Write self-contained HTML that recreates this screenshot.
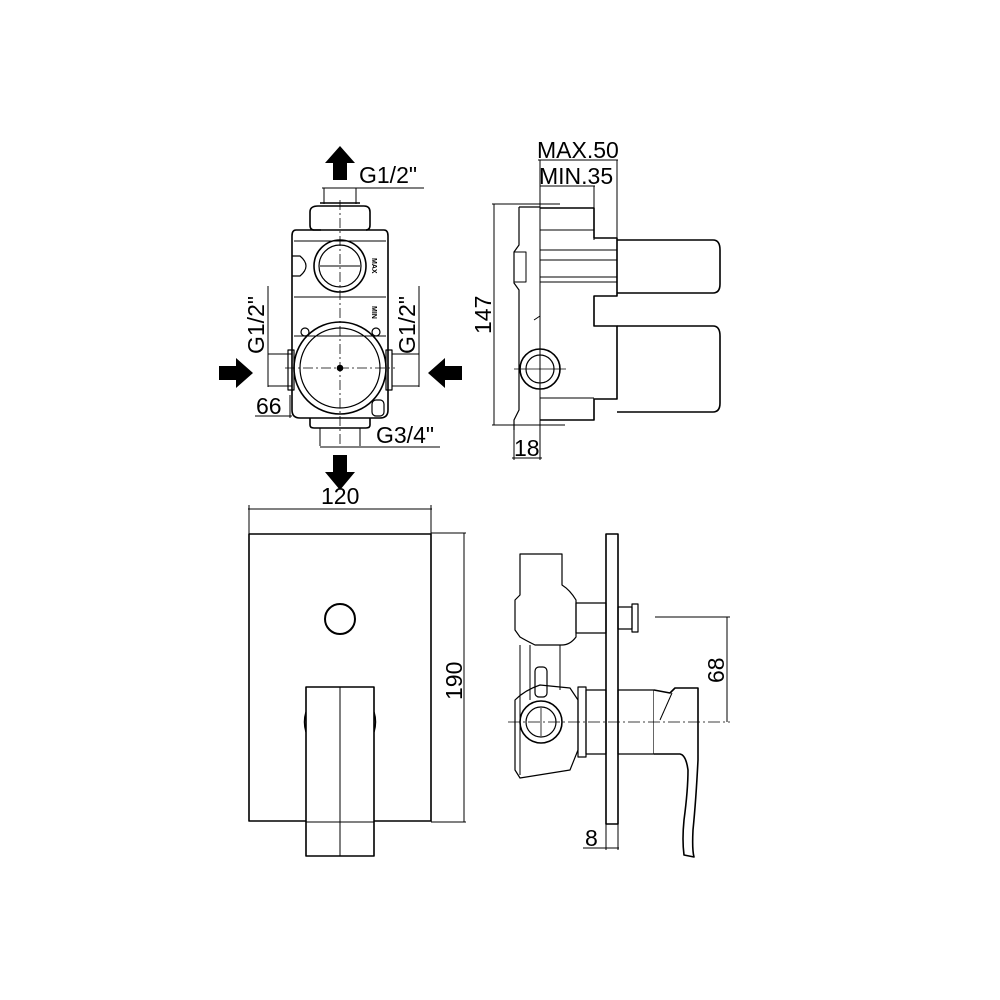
<!DOCTYPE html>
<html><head><meta charset="utf-8"><style>
html,body{margin:0;padding:0;background:#fff}
svg{display:block}
text{font-family:"Liberation Sans","DejaVu Sans",sans-serif;fill:#000}
</style></head><body>
<svg width="1000" height="1000" viewBox="0 0 1000 1000" xmlns="http://www.w3.org/2000/svg">
<g fill="none" stroke="#000" stroke-width="1.6" stroke-linejoin="round">

<!-- ===== TOP LEFT VIEW ===== -->
<polygon points="340,146 355,163 347,163 347,180 333,180 333,163 325,163" fill="#000" stroke="none"/>
<line x1="322" y1="188" x2="424" y2="188" stroke-width="1"/>
<line x1="324" y1="188" x2="324" y2="204" stroke-width="1"/>
<line x1="356" y1="188" x2="356" y2="204" stroke-width="1"/>
<path d="M321,230 L314,230 Q310,230 310,225 L310,212 Q310,206 318,206 L364,206 Q370,206 370,212 L370,225 Q370,230 366,230"/>
<line x1="320" y1="203" x2="360" y2="203"/>
<path d="M296,230 L384,230 Q388,230 388,236 L388,410 Q388,418 380,418 L300,418 Q292,418 292,410 L292,236 Q292,230 296,230 Z"/>
<line x1="294" y1="241" x2="386" y2="241" stroke-width="1"/>
<line x1="294" y1="297" x2="386" y2="297" stroke-width="1"/>
<line x1="294" y1="336" x2="386" y2="336" stroke-width="1"/>
<path d="M292,256 L300,256 Q306,261 306,266 Q306,271 300,276 L292,276" stroke-width="1.2"/>
<circle cx="340" cy="266" r="26"/>
<circle cx="340" cy="266" r="21" stroke-width="1.2"/>
<line x1="320" y1="266" x2="360" y2="266" stroke-width="1"/>
<line x1="340" y1="200" x2="340" y2="445" stroke-width="0.8" stroke-dasharray="10,3,2,3"/>
<circle cx="305" cy="332" r="4" stroke-width="1.2"/>
<circle cx="376" cy="332" r="4" stroke-width="1.2"/>
<rect x="288" y="350" width="6" height="40" stroke-width="1.2"/>
<rect x="386" y="350" width="6" height="40" stroke-width="1.2"/>
<circle cx="340" cy="368" r="46"/>
<circle cx="340" cy="368" r="40" stroke-width="1.2"/>
<circle cx="340" cy="368" r="2.5" fill="#000"/>
<line x1="285" y1="368" x2="395" y2="368" stroke-width="0.8" stroke-dasharray="10,3,2,3"/>
<rect x="372" y="400" width="12" height="16" rx="4" stroke-width="1.2"/>
<path d="M310,418 L310,425 Q310,428 314,428 L366,428 Q370,428 370,425 L370,418"/>
<line x1="320" y1="428" x2="320" y2="446" stroke-width="1"/>
<line x1="360" y1="428" x2="360" y2="446" stroke-width="1"/>
<line x1="320" y1="447" x2="440" y2="447" stroke-width="1"/>
<line x1="268" y1="286" x2="268" y2="387" stroke-width="1"/>
<line x1="268" y1="354" x2="292" y2="354" stroke-width="1"/>
<line x1="268" y1="386" x2="292" y2="386" stroke-width="1"/>
<line x1="419" y1="286" x2="419" y2="387" stroke-width="1"/>
<line x1="392" y1="354" x2="419" y2="354" stroke-width="1"/>
<line x1="392" y1="386" x2="419" y2="386" stroke-width="1"/>
<line x1="255" y1="416" x2="292" y2="416" stroke-width="1"/>
<line x1="290" y1="395" x2="290" y2="418" stroke-width="1"/>
<polygon points="253,373 236,358 236,366 219,366 219,380 236,380 236,388" fill="#000" stroke="none"/>
<polygon points="428,373 445,358 445,366 462,366 462,380 445,380 445,388" fill="#000" stroke="none"/>
<polygon points="340,490 325,472 333,472 333,455 347,455 347,472 355,472" fill="#000" stroke="none"/>

<!-- ===== TOP RIGHT VIEW ===== -->
<line x1="538" y1="160" x2="618" y2="160" stroke-width="1"/>
<line x1="540" y1="186" x2="595" y2="186" stroke-width="1"/>
<line x1="540" y1="160" x2="540" y2="425" stroke-width="1"/>
<line x1="594" y1="186" x2="594" y2="240" stroke-width="1"/>
<line x1="617" y1="160" x2="617" y2="240" stroke-width="1"/>
<line x1="492" y1="204" x2="560" y2="204" stroke-width="1"/>
<line x1="492" y1="425" x2="565" y2="425" stroke-width="1"/>
<line x1="494" y1="204" x2="494" y2="425" stroke-width="1"/>
<path d="M540,208 L594,208 L594,238 L617,238 L617,296 L594,296 L594,326 L617,326 L617,399 L594,399 L594,420 L540,420"/>
<line x1="540" y1="230" x2="594" y2="230" stroke-width="1"/>
<line x1="540" y1="250" x2="617" y2="250" stroke-width="1"/>
<line x1="540" y1="260" x2="617" y2="260" stroke-width="1"/>
<line x1="540" y1="277" x2="617" y2="277" stroke-width="1"/>
<line x1="540" y1="282" x2="617" y2="282" stroke-width="1"/>
<line x1="540" y1="398" x2="594" y2="398" stroke-width="1"/>
<path d="M519,207 L540,207 M519,207 L519,245 L514,252 L514,283 L519,290 L519,410 L514,420 L514,430" stroke-width="1.2"/>
<rect x="514" y="252" width="12" height="30" stroke-width="1"/>
<path d="M617,240 L713,240 Q720,240 720,250 L720,284 Q720,293 713,293 L617,293"/>
<path d="M617,326 L713,326 Q720,326 720,336 L720,403 Q720,412 713,412 L617,412"/>
<circle cx="540" cy="369" r="20"/>
<circle cx="540" cy="369" r="14" stroke-width="1.2"/>
<line x1="514" y1="369" x2="566" y2="369" stroke-width="0.8"/>
<path d="M534,320 L540,316 L540,350" stroke-width="1"/>
<line x1="514" y1="425" x2="514" y2="460" stroke-width="1"/>
<line x1="540" y1="425" x2="540" y2="460" stroke-width="1"/>
<line x1="512" y1="458" x2="542" y2="458" stroke-width="1"/>

<!-- ===== BOTTOM LEFT VIEW ===== -->
<line x1="248" y1="509" x2="432" y2="509" stroke-width="1"/>
<line x1="249" y1="505" x2="249" y2="534" stroke-width="1"/>
<line x1="431" y1="505" x2="431" y2="534" stroke-width="1"/>
<rect x="249" y="534" width="182" height="287"/>
<line x1="431" y1="533" x2="466" y2="533" stroke-width="1"/>
<line x1="431" y1="822" x2="466" y2="822" stroke-width="1"/>
<line x1="464" y1="533" x2="464" y2="822" stroke-width="1"/>
<circle cx="340" cy="619" r="15" stroke-width="2"/>
<path d="M306,712 Q303,722 306,732" stroke-width="1.5"/>
<path d="M374,712 Q377,722 374,732" stroke-width="1.5"/>
<rect x="306" y="687" width="68" height="169" fill="#fff"/>
<line x1="340" y1="687" x2="340" y2="856" stroke-width="1"/>
<line x1="306" y1="822" x2="374" y2="822" stroke-width="1"/>

<!-- ===== BOTTOM RIGHT VIEW ===== -->
<rect x="606" y="534" width="12" height="290"/>
<path d="M520,554 L562,554 L562,585 Q570,590 576,600 L576,637 Q570,645 562,645 L535,645 Q525,640 520,637 L515,630 L515,600 L520,595 Z" stroke-width="1.2"/>
<rect x="576" y="603" width="30" height="30" stroke-width="1.2"/>
<rect x="618" y="607" width="14" height="22" stroke-width="1.2"/>
<rect x="632" y="604" width="6" height="28" stroke-width="1.2"/>
<line x1="655" y1="617" x2="730" y2="617" stroke-width="1"/>
<line x1="520" y1="645" x2="520" y2="775" stroke-width="1"/>
<line x1="530" y1="645" x2="530" y2="700" stroke-width="1"/>
<line x1="560" y1="645" x2="560" y2="690" stroke-width="1"/>
<path d="M515,700 Q525,690 540,685 L570,688 L578,700 L578,750 L570,770 L520,778 L515,770 Z" stroke-width="1.2"/>
<rect x="578" y="687" width="8" height="70" stroke-width="1.2"/>
<rect x="586" y="690" width="20" height="64" stroke-width="1.2"/>
<rect x="618" y="690" width="36" height="64" stroke-width="1.2"/>
<circle cx="541" cy="722" r="21"/>
<circle cx="541" cy="722" r="15" stroke-width="1.2"/>
<line x1="541" y1="708" x2="541" y2="736" stroke-width="0.8"/>
<rect x="535" y="667" width="12" height="30" rx="4" stroke-width="1.2"/>
<path d="M654,690 L670,693 L675,688 L698,688 L698,760 Q696,800 693,830 Q692,850 694,857 L684,855 Q682,840 684,820 Q688,790 688,770 Q686,755 680,754 L654,754" fill="#fff" stroke-width="1.6"/>
<line x1="660" y1="720" x2="672" y2="693" stroke-width="1"/>
<line x1="508" y1="722" x2="730" y2="722" stroke-width="0.8" stroke-dasharray="12,3,2,3"/>
<line x1="727" y1="617" x2="727" y2="722" stroke-width="1"/>
<line x1="606" y1="824" x2="606" y2="850" stroke-width="1"/>
<line x1="618" y1="824" x2="618" y2="850" stroke-width="1"/>
<line x1="583" y1="848" x2="619" y2="848" stroke-width="1"/>
</g>

<g font-size="23">
<text x="359" y="183">G1/2"</text>
<text x="0" y="0" transform="translate(264,354) rotate(-90)">G1/2"</text>
<text x="0" y="0" transform="translate(415,354) rotate(-90)">G1/2"</text>
<text x="256" y="414">66</text>
<text x="376" y="443">G3/4"</text>
<text x="537" y="158">MAX.50</text>
<text x="539" y="184">MIN.35</text>
<text x="0" y="0" transform="translate(491,334) rotate(-90)">147</text>
<text x="514" y="456">18</text>
<text x="321" y="504">120</text>
<text x="0" y="0" transform="translate(462,700) rotate(-90)">190</text>
<text x="0" y="0" transform="translate(724,683) rotate(-90)">68</text>
<text x="585" y="846">8</text>
</g>
<g font-size="7" font-weight="bold">
<text x="0" y="0" transform="translate(372,258) rotate(90)">MAX</text>
<text x="0" y="0" transform="translate(372,306) rotate(90)">MIN</text>
</g>
</svg>
</body></html>
